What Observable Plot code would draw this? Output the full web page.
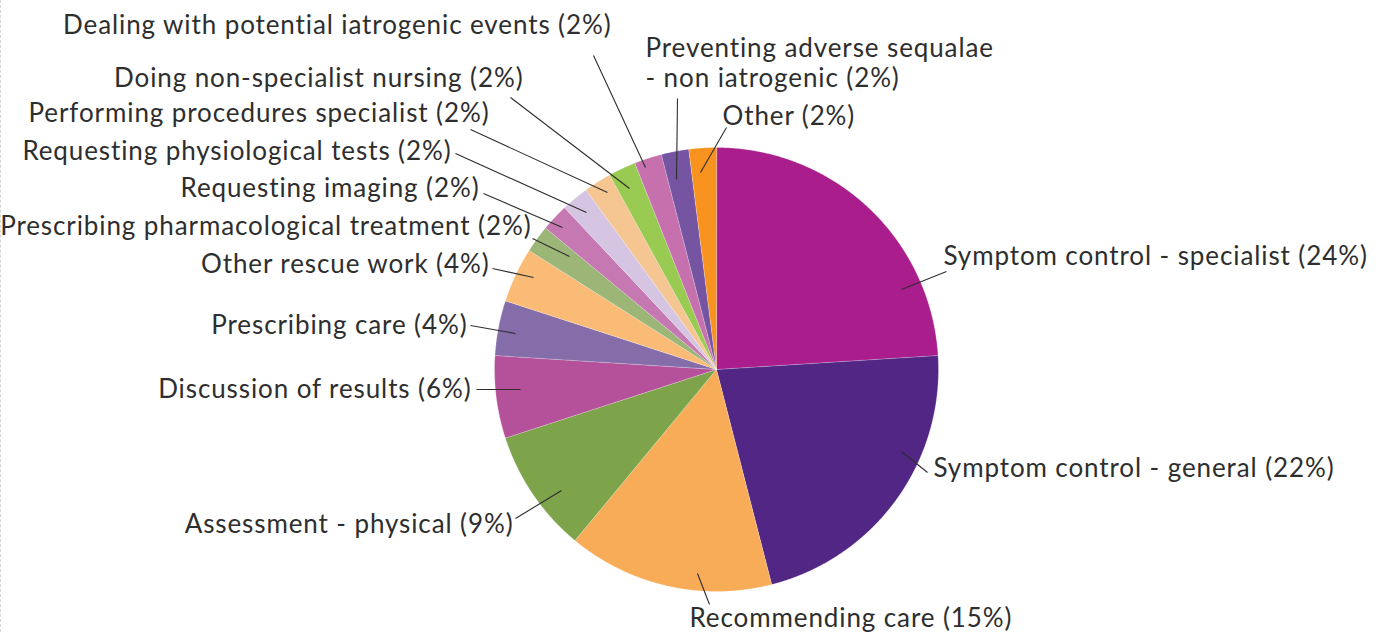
<!DOCTYPE html>
<html><head><meta charset="utf-8">
<script src="https://cdn.jsdelivr.net/npm/d3@7"></script>
<script src="https://cdn.jsdelivr.net/npm/@observablehq/plot@0.6"></script>
<style>
html,body{margin:0;padding:0;background:#fff;}
#chart{position:relative;width:1378px;height:632px;overflow:hidden;}
#edge{position:absolute;left:0;top:0;width:0;height:632px;border-left:1px dashed #d6d6d6;}
</style></head><body>
<div id="chart"><div id="edge"></div></div>
<script>
// ---- data ----
const categories = [
  "Symptom control - specialist",
  "Symptom control - general",
  "Recommending care",
  "Assessment - physical",
  "Discussion of results",
  "Prescribing care",
  "Other rescue work",
  "Prescribing pharmacological treatment",
  "Requesting imaging",
  "Requesting physiological tests",
  "Performing procedures specialist",
  "Doing non-specialist nursing",
  "Dealing with potential iatrogenic events",
  "Preventing adverse sequalae - non iatrogenic",
  "Other"
];
const shares = [24, 22, 15, 9, 6, 4, 4, 2, 2, 2, 2, 2, 2, 2, 2];
const colors = [
  "#A91D8C", "#522684", "#F8AC57", "#7EA44B", "#B5519B",
  "#856DAA", "#FABB77", "#9BB676", "#C578B1", "#D5C5E2",
  "#F5C592", "#99CA52", "#C671AD", "#7555A2", "#F7931E"
];
const labelText = categories.map((c, i) =>
  c === "Preventing adverse sequalae - non iatrogenic"
    ? `Preventing adverse sequalae\n- non iatrogenic (${shares[i]}%)`
    : `${c} (${shares[i]}%)`);

// ---- label layout (offsets in px from the pie centre; radius = 222) ----
const R = 222;
const labelLayout = [
  {anchor: "start", tx: 227, ty: -114, x1: 230, y1: -98, x2: 185, y2: -80},
  {anchor: "start", tx: 217, ty: 98, x1: 211, y1: 103, x2: 185, y2: 82},
  {anchor: "start", tx: -27, ty: 248, x1: -7, y1: 235, x2: -19, y2: 204},
  {anchor: "end", tx: -203, ty: 154, x1: -201, y1: 149, x2: -155, y2: 121},
  {anchor: "end", tx: -245, ty: 19, x1: -240, y1: 20, x2: -196, y2: 20},
  {anchor: "end", tx: -249, ty: -45, x1: -246, y1: -44, x2: -201, y2: -36},
  {anchor: "end", tx: -227, ty: -106, x1: -224, y1: -101, x2: -183, y2: -92},
  {anchor: "end", tx: -185, ty: -144, x1: -184, y1: -131, x2: -147, y2: -113},
  {anchor: "end", tx: -237, ty: -182, x1: -233, y1: -176, x2: -154, y2: -142},
  {anchor: "end", tx: -265, ty: -219, x1: -261, y1: -216, x2: -130, y2: -157},
  {anchor: "end", tx: -227, ty: -257, x1: -246, y1: -240, x2: -109, y2: -177},
  {anchor: "end", tx: -193, ty: -292, x1: -206, y1: -272, x2: -87, y2: -181},
  {anchor: "end", tx: -105, ty: -345, x1: -123, y1: -314, x2: -71, y2: -202},
  {anchor: "start", tx: -71, ty: -307, x1: -39, y1: -271, x2: -40, y2: -190},
  {anchor: "start", tx: 6, ty: -254, x1: 10, y1: -242, x2: -16, y2: -197}
].map((d, i) => ({...d, label: labelText[i]}));

// ---- slices as polygons from d3.pie angles ----
const arcs = d3.pie().sort(null).value(d => d)(shares);
const slicePts = [];
arcs.forEach((a, i) => {
  const n = Math.max(2, Math.ceil((a.endAngle - a.startAngle) / (Math.PI / 720)));
  slicePts.push({cat: categories[i], color: colors[i], x: 0, y: 0});
  for (let k = 0; k <= n; k++) {
    const t = a.startAngle + (a.endAngle - a.startAngle) * k / n;
    slicePts.push({cat: categories[i], color: colors[i], x: R * Math.sin(t), y: -R * Math.cos(t)});
  }
});

const W = 1378, H = 632, CX = 716, CY = 369;
const font = "Lato, 'Open Sans', sans-serif";
const textOpts = {x: "tx", y: "ty", text: "label", fontSize: 26, fill: "#2e2e2e", lineHeight: 1.15};

const chart = Plot.plot({
  width: W, height: H, margin: 0,
  x: {domain: [-CX, W - CX], range: [0, W], axis: null},
  y: {domain: [-CY, H - CY], range: [0, H], axis: null},
  color: {type: "identity"},
  style: {fontFamily: font, background: "transparent", letterSpacing: "0.9px"},
  marks: [
    Plot.line(slicePts, {x: "x", y: "y", z: "cat", fill: "color", stroke: "white", strokeWidth: 0.5, strokeOpacity: 0.5, curve: "linear-closed"}),
    Plot.link(labelLayout, {x1: "x1", y1: "y1", x2: "x2", y2: "y2", stroke: "#2e2e2e", strokeWidth: 1.1}),
    Plot.text(labelLayout.filter(d => d.anchor === "start"), {...textOpts, textAnchor: "start"}),
    Plot.text(labelLayout.filter(d => d.anchor === "end"), {...textOpts, textAnchor: "end"})
  ]
});
document.getElementById("chart").appendChild(chart);
</script>
</body></html>
